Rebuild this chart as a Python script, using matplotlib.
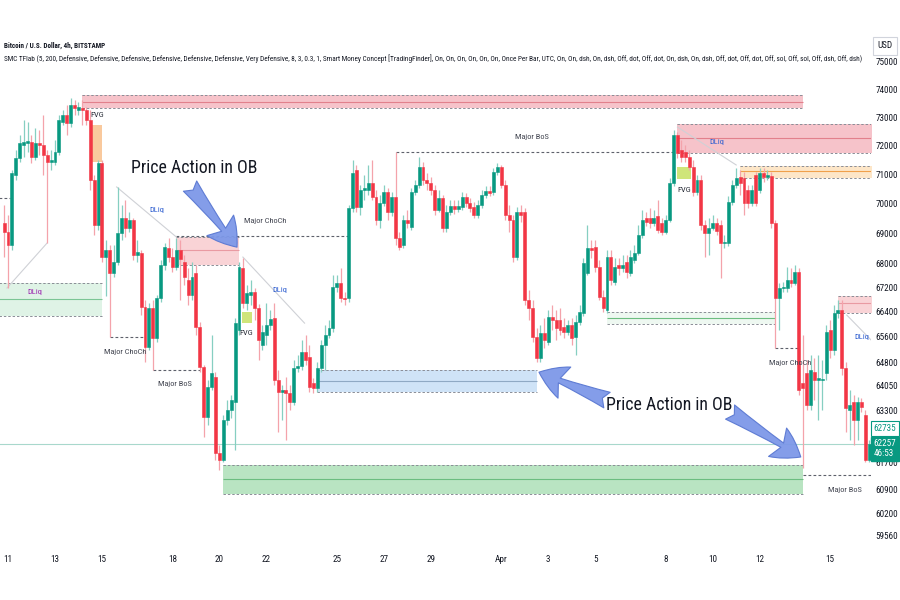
import numpy as np
import pandas as pd
import matplotlib
matplotlib.use('Agg')
import matplotlib.pyplot as plt
import matplotlib.dates as mdates
from matplotlib import font_manager
from matplotlib.patches import FancyArrowPatch

# BTC/USD Bitstamp, 4h candles, 10 Mar 20:00 -> 16 Apr 16:00
times = pd.date_range('2024-03-10 20:00', periods=222, freq='4h')

opens = [69340, 69040, 68600, 70980, 71570, 72030, 72100, 72130, 71610, 72100,
         72030, 71680, 71430, 71430, 71780, 72840, 73090, 72800, 73440, 73270,
         73340, 73270, 72910, 70810, 69270, 71400, 68200, 68430, 67670, 68040,
         69000, 69510, 69170, 69440, 68270, 68330, 66560, 65270, 66530, 65560,
         66850, 67940, 68500, 68200, 67870, 68430, 68040, 67440, 66950, 67670,
         65910, 64640, 63090, 64010, 64330, 61990, 61780, 62990, 63300, 63550,
         65820, 67840, 66690, 66950, 67050, 66530, 65340, 65660, 65980, 66200,
         64230, 63860, 63920, 63830, 63550, 64610, 64670, 65120, 64960, 64140,
         63980, 64610, 65340, 65660, 65880, 67210, 67340, 66850, 66850, 69850,
         71160, 69880, 70470, 70470, 70710, 70230, 69440, 70020, 70400, 69710,
         70230, 68840, 68600, 69440, 69200, 70400, 70640, 71260, 70810, 70710,
         70470, 69780, 70190, 69170, 69710, 69920, 69810, 69880, 70230, 70020,
         69880, 69610, 69950, 70290, 70430, 70400, 71090, 71260, 70640, 69610,
         69440, 68200, 69710, 69710, 66790, 66530, 65590, 64920, 65720, 65430,
         66240, 66140, 66140, 65910, 65750, 65980, 65590, 66070, 66370, 67670,
         68500, 68530, 67870, 66880, 66460, 68200, 67370, 67940, 67840, 68040,
         67670, 68100, 68330, 68940, 69510, 69510, 69340, 69580, 69340, 69040,
         69440, 70710, 72380, 71850, 71780, 71610, 71260, 70400, 70810, 69270,
         69000, 69170, 69340, 69270, 68670, 68670, 70050, 70640, 70910, 70880,
         70470, 70020, 70980, 70470, 71050, 70910, 70950, 69340, 66850, 67180,
         67180, 67440, 67340, 67700, 64140, 64450, 63460, 64490, 64230, 64230,
         64450, 65820, 65180, 66370, 66460, 64610, 63300, 63550, 62990, 63550,
         63150, 61780]
highs = [69950, 69610, 71160, 71850, 72380, 72910, 72840, 72380, 72630, 72560,
         73090, 71850, 71850, 72200, 73090, 73270, 73440, 73700, 73620, 73550,
         73620, 73370, 73270, 70980, 71500, 71500, 68770, 68600, 68600, 70570,
         69950, 70120, 69710, 69510, 68770, 68430, 66790, 66690, 66790, 66950,
         68100, 68670, 68840, 68500, 68840, 68770, 68270, 67840, 68040, 67940,
         66070, 64700, 64230, 65660, 64490, 62230, 63150, 63610, 63770, 66200,
         68040, 68170, 67280, 67440, 67180, 66660, 65980, 66690, 66460, 66690,
         64550, 64080, 64330, 64080, 64860, 65020, 65500, 65660, 65340, 64300,
         64800, 65500, 65980, 66140, 67610, 67610, 67840, 67050, 69950, 71500,
         71330, 70640, 70980, 71330, 71500, 70470, 70290, 70640, 70530, 70400,
         71780, 69040, 69610, 69780, 70530, 70810, 71610, 71430, 71050, 70910,
         70640, 70470, 70290, 69950, 70120, 70120, 70120, 70400, 70360, 70190,
         70050, 70120, 70470, 70600, 70600, 71230, 71400, 71330, 70810, 69950,
         69610, 69880, 69950, 69850, 67110, 66790, 65880, 65980, 66200, 66460,
         66620, 66460, 66530, 66200, 66140, 66200, 66300, 66620, 68170, 69270,
         68770, 68770, 68100, 67110, 68430, 68430, 68170, 68170, 68270, 68270,
         68430, 68600, 69270, 69780, 69710, 69850, 69780, 70120, 69510, 69610,
         70880, 72560, 72490, 72200, 72030, 71850, 71500, 70980, 70980, 69440,
         69510, 69610, 69510, 69440, 68940, 70260, 70810, 71230, 71160, 71090,
         70640, 70640, 71090, 71230, 71230, 71160, 71090, 69440, 67340, 67370,
         67870, 67840, 67940, 67840, 65660, 64860, 65020, 64920, 65020, 64860,
         65980, 66140, 66620, 66790, 66790, 64800, 63920, 63770, 63700, 63670,
         63300, 62380]
lows = [68200, 67180, 68430, 70810, 71430, 71610, 71780, 71400, 71500, 71680,
        70980, 68670, 71160, 71330, 71680, 72730, 72380, 72660, 73090, 73090,
        72730, 72730, 70470, 68940, 69100, 68040, 66920, 65590, 67540, 67940,
        68770, 68870, 69040, 68100, 68040, 66300, 64800, 65180, 64550, 65430,
        66720, 67770, 68040, 67700, 67770, 66790, 67280, 66620, 66790, 65660,
        64490, 62470, 62840, 63920, 61780, 61480, 61720, 62840, 63060, 62080,
        65660, 66530, 66460, 66620, 66140, 64860, 65180, 65340, 65820, 64080,
        62620, 62990, 62380, 63300, 63460, 64490, 64550, 64700, 63860, 63830,
        63860, 64490, 64550, 65560, 65750, 67050, 66720, 66620, 66720, 69710,
        69710, 69610, 70120, 70290, 70120, 69270, 69170, 69920, 69440, 69580,
        68600, 68430, 68500, 69170, 69100, 70290, 70530, 70640, 70470, 70290,
        69610, 69710, 69040, 69040, 69610, 69640, 69710, 69780, 69880, 69710,
        69510, 69510, 69850, 70190, 70260, 70290, 70980, 70530, 69440, 69040,
        68040, 68100, 69370, 66620, 66140, 65430, 64800, 64800, 65240, 65340,
        65820, 65500, 65660, 65560, 65660, 65340, 65020, 65980, 66270, 67610,
        68170, 67700, 66790, 66400, 66370, 67280, 67280, 67610, 67700, 67510,
        67570, 68000, 68270, 68840, 69240, 69170, 69240, 69000, 68940, 68970,
        69370, 70600, 71570, 71430, 71430, 71160, 70260, 70290, 69100, 68200,
        68270, 69100, 68940, 67510, 68500, 68570, 69950, 70530, 70290, 69610,
        69850, 69920, 69920, 70360, 70740, 70810, 69170, 65240, 65820, 67050,
        67050, 67210, 67280, 63770, 61540, 63300, 63300, 63610, 62990, 63300,
        64230, 64920, 65020, 66200, 64390, 62620, 62380, 62230, 62380, 63240,
        61720, 61720]
closes = [69040, 68600, 71050, 71570, 72100, 72130, 72170, 71610, 72100, 72030,
          71680, 71430, 71500, 71780, 72910, 73090, 72800, 73440, 73340, 73370,
          73270, 72910, 70810, 69270, 71400, 68200, 68430, 67670, 68040, 69000,
          69510, 69170, 69440, 68270, 68370, 66560, 65270, 66530, 65560, 66850,
          67940, 68530, 68200, 67870, 68430, 68130, 67540, 66950, 67540, 65910,
          64640, 63090, 64010, 64450, 61990, 61780, 62990, 63300, 63610, 66040,
          67870, 66690, 67010, 67050, 66530, 65500, 65750, 65980, 66170, 64230,
          63860, 63920, 63830, 63550, 64610, 64670, 65120, 64860, 64010, 63980,
          64610, 65340, 65660, 65880, 67210, 67340, 66850, 66820, 69850, 71050,
          69880, 70470, 70530, 70710, 70230, 69440, 70020, 70400, 69710, 70230,
          68840, 68530, 69440, 69340, 70400, 70640, 71260, 70810, 70710, 70470,
          69780, 70190, 69170, 69710, 69920, 69810, 69920, 70230, 70020, 69850,
          69610, 69950, 70290, 70430, 70360, 71090, 71260, 70640, 69610, 69440,
          68200, 69710, 69610, 66790, 66530, 65590, 64920, 65720, 65500, 66240,
          66140, 65880, 65820, 65750, 65980, 65560, 66070, 66400, 68000, 68500,
          68430, 67870, 66880, 66530, 68200, 67440, 67870, 67840, 67940, 67700,
          68200, 68330, 68940, 69440, 69370, 69340, 69510, 69100, 69040, 69440,
          70710, 72380, 71750, 71610, 71610, 71260, 70400, 70810, 69270, 69000,
          69170, 69340, 69070, 68670, 68700, 70050, 70640, 70880, 70710, 70020,
          70020, 70470, 70020, 71050, 70910, 70980, 69340, 66850, 67180, 67210,
          67440, 67340, 67700, 63920, 63980, 63460, 64550, 64230, 64300, 64260,
          65750, 65180, 66370, 66460, 64610, 63360, 63460, 62990, 63550, 63390,
          61780, 62257]

last_price = 62257
tag_price = 62735

ytick_vals = [75000, 74000, 73000, 72000, 71000, 70000, 69000, 68000, 67200,
              66400, 65600, 64800, 64050, 63300, 61700, 60900, 60200, 59560]
xtick_dates = ['2024-03-11', '2024-03-13', '2024-03-15', '2024-03-18', '2024-03-20',
               '2024-03-22', '2024-03-25', '2024-03-27', '2024-03-29', '2024-04-01',
               '2024-04-03', '2024-04-05', '2024-04-08', '2024-04-10', '2024-04-12',
               '2024-04-15']
xtick_labels = ['11', '13', '15', '18', '20', '22', '25', '27', '29', 'Apr',
                '3', '5', '8', '10', '12', '15']

# order-block / liquidity zones: start, end, top, mid, bottom
zone_start = ['2024-03-14 04:00', '2024-03-10 12:00', '2024-03-18 04:00', '2024-03-24 04:00',
              '2024-03-20 04:00', '2024-04-05 12:00', '2024-04-08 12:00', '2024-04-11 04:00',
              '2024-04-15 08:00']
zone_end = ['2024-04-13 20:00', '2024-03-15 00:00', '2024-03-20 20:00', '2024-04-02 12:00',
            '2024-04-13 20:00', '2024-04-12 16:00', '2024-04-17 00:00', '2024-04-17 00:00',
            '2024-04-17 00:00']
zone_top = [73800, 67340, 68870, 64550, 61630, 66400, 72770, 71290, 66920]
zone_mid = [73550, 66820, 68430, 64200, 61210, 66200, 72270, 71120, 66690]
zone_bot = [73340, 66270, 67935, 63860, 60760, 66010, 71750, 70880, 66370]
zone_fill = ['#f6c3ca', '#dff3e6', '#f9d3d6', '#cfe3f7', '#b9e4c2', '#eef8f1',
             '#f6c3ca', '#fde6c8', '#f9d3d6']
zone_line = ['#e2808c', '#7cc595', '#e99aa2', '#8fa9c4', '#6cbd80', '#6cbd80',
             '#e2808c', '#f0a04b', '#e99aa2']

# fair value gaps: start, end, top, bottom, colour
fvg_start = ['2024-03-14 14:00', '2024-03-20 23:00', '2024-04-08 12:00']
fvg_end = ['2024-03-15 00:00', '2024-03-21 09:00', '2024-04-09 02:00']
fvg_top = [72730, 66400, 71260]
fvg_bot = [71430, 66040, 70840]
fvg_col = ['#f9c99d', '#cfe57a', '#cfe57a']

# structure breaks (dashed)
brk_start = ['2024-03-10 12:00', '2024-03-15 08:00', '2024-03-17 04:00', '2024-03-18 04:00',
             '2024-03-27 12:00', '2024-04-12 16:00', '2024-04-13 20:00']
brk_end = ['2024-03-11 02:00', '2024-03-16 18:00', '2024-03-19 04:00', '2024-03-25 12:00',
           '2024-04-08 08:00', '2024-04-13 16:00', '2024-04-17 00:00']
brk_price = [70190, 65590, 64547, 68900, 71780, 65240, 61330]

# liquidity trend lines
liq_from = [('2024-03-10 23:00', 67180), ('2024-03-15 15:00', 70570), ('2024-03-21 00:00', 68200),
            ('2024-04-08 12:00', 72660), ('2024-04-15 17:00', 66300)]
liq_to = [('2024-03-12 16:00', 68670), ('2024-03-18 04:00', 68870), ('2024-03-23 15:00', 66040),
          ('2024-04-11 00:00', 71330), ('2024-04-16 20:00', 65430)]

labels = [('FVG', '2024-03-14 19:00', 73090, '#2a2e39'),
          ('DLiq', '2024-03-12 03:30', 67050, '#9c27b0'),
          ('DLiq', '2024-03-17 08:00', 69780, '#2f5fd0'),
          ('Major ChoCh', '2024-03-15 23:30', 65115, '#434651'),
          ('Major BoS', '2024-03-18 02:30', 64110, '#434651'),
          ('Major ChoCh', '2024-03-21 22:30', 69410, '#434651'),
          ('DLiq', '2024-03-22 14:00', 67110, '#2f5fd0'),
          ('FVG', '2024-03-21 03:00', 65720, '#2a2e39'),
          ('Major BoS', '2024-04-02 07:30', 72310, '#434651'),
          ('DLiq', '2024-04-10 04:00', 72140, '#2f5fd0'),
          ('FVG', '2024-04-08 18:30', 70465, '#2a2e39'),
          ('Major ChoCh', '2024-04-13 07:00', 64770, '#434651'),
          ('Major BoS', '2024-04-15 15:00', 60880, '#434651'),
          ('DLiq', '2024-04-16 08:00', 65580, '#2f5fd0')]

callout_text = 'Price Action in OB'
callout_pos = [('2024-03-18 22:00', 71225), ('2024-04-08 04:00', 63455)]
arrow_from = [('2024-03-18 18:00', 70600), ('2024-04-05 12:00', 63610), ('2024-04-10 17:45', 63240)]
arrow_to = [('2024-03-20 18:00', 68530), ('2024-04-02 14:30', 64480), ('2024-04-13 18:00', 61870)]

header1 = 'Bitcoin / U.S. Dollar, 4h, BITSTAMP'
header2 = ('SMC TFlab (5, 200, Defensive, Defensive, Defensive, Defensive, Defensive, Defensive, '
           'Very Defensive, 8, 3, 0.3, 1, Smart Money Concept [TradingFinder], On, On, On, On, On, On, '
           'Once Per Bar, UTC, On, On, dsh, On, dsh, Off, dot, Off, dot, On, dsh, On, dsh, Off, dot, '
           'Off, dot, Off, sol, Off, sol, Off, dsh, Off, dsh)')

# fonts: a narrow face if one is installed
fonts = font_manager.fontManager.ttflist
names = {f.name for f in fonts}
pref = ['Liberation Sans Narrow', 'Noto Sans Condensed', 'Noto Sans SemiCondensed',
        'DejaVu Sans Condensed', 'Roboto Condensed', 'Open Sans Condensed']
narrow = next((n for n in pref if n in names), None)
if narrow is None:
    cond = [f.name for f in fonts if f.stretch in ('condensed', 'semi-condensed')
            and f.style == 'normal' and f.name in ('DejaVu Sans', 'Noto Sans', 'Open Sans')]
    if cond:
        narrow = cond[0]
        plt.rcParams['font.stretch'] = 'condensed'
plt.rcParams['font.family'] = [narrow, 'DejaVu Sans'] if narrow else ['DejaVu Sans']
fs_small = 6.0 if narrow else 4.6
fs_tick = 6.6 if narrow else 5.0


def dn(s):
    return mdates.date2num(pd.Timestamp(s))


fig = plt.figure(figsize=(9, 6), dpi=100)
ax = fig.add_axes([0, 57 / 600, 871 / 900, 505 / 600])
ax.set_yscale('log')

# zones
for s, e, top, mid, bot, fc, lc in zip(zone_start, zone_end, zone_top, zone_mid, zone_bot,
                                        zone_fill, zone_line):
    x0, x1 = dn(s), dn(e)
    ax.fill_between([x0, x1], bot, top, color=fc, lw=0, zorder=1)
    ax.hlines([top, bot], x0, x1, colors='#8a8d96', linestyles=(0, (2.5, 2)), lw=0.7, zorder=2)
    ax.hlines(mid, x0, x1, colors=lc, lw=0.8, zorder=2)

for s, e, top, bot, fc in zip(fvg_start, fvg_end, fvg_top, fvg_bot, fvg_col):
    ax.fill_between([dn(s), dn(e)], bot, top, color=fc, lw=0, zorder=2)

for s, e, p in zip(brk_start, brk_end, brk_price):
    ax.hlines(p, dn(s), dn(e), colors='#5d606b', linestyles=(0, (2.5, 2)), lw=0.8, zorder=2)

for (s0, p0), (s1, p1) in zip(liq_from, liq_to):
    ax.plot([dn(s0), dn(s1)], [p0, p1], color='#cfd1d6', lw=0.8, zorder=2)

ax.axhline(last_price, color='#a8d8cc', lw=0.8, zorder=2)

# candles
t = mdates.date2num(times)
o, h, l, c = (np.array(v, dtype=float) for v in (opens, highs, lows, closes))
up = c >= o
body_col = np.where(up, '#089981', '#f23645')
wick_col = np.where(up, '#86cfc1', '#f4a3ab')
ax.vlines(t, l, h, colors=wick_col, lw=0.9, zorder=3)
ax.bar(t, np.abs(c - o), bottom=np.minimum(o, c), width=0.125, color=body_col,
       edgecolor=body_col, linewidth=0.4, zorder=4)

for txt, s, p, col in labels:
    ax.text(dn(s), p, txt, color=col, fontsize=fs_small, ha='center', va='center',
            zorder=5, clip_on=True)

big = []
for s, p in callout_pos:
    big.append(ax.text(dn(s), p, callout_text, color='#131722', fontsize=14,
                       ha='center', va='center', zorder=6))

for (s0, p0), (s1, p1) in zip(arrow_from, arrow_to):
    arr = FancyArrowPatch((dn(s0), p0), (dn(s1), p1),
                          arrowstyle='fancy,head_length=0.9,head_width=1.1,tail_width=0.55',
                          mutation_scale=22, fc='#7d98e8', ec='#5a78d2', lw=0.8,
                          alpha=0.95, zorder=7, shrinkA=0, shrinkB=0)
    ax.add_patch(arr)

# axes
ax.set_xlim(dn('2024-03-10 15:50'), dn('2024-04-16 17:45'))
ax.set_ylim(59331, 75882)
ax.yaxis.tick_right()
ax.yaxis.set_major_locator(matplotlib.ticker.FixedLocator(ytick_vals))
ax.yaxis.set_minor_locator(matplotlib.ticker.NullLocator())
ax.set_yticklabels([str(v) for v in ytick_vals])
ax.set_xticks([dn(d) for d in xtick_dates])
ax.set_xticklabels(xtick_labels)
ax.tick_params(axis='y', length=0, pad=3, labelsize=fs_tick, labelcolor='#131722')
ax.tick_params(axis='x', length=0, pad=9, labelsize=fs_tick, labelcolor='#131722')
for sp in ax.spines.values():
    sp.set_visible(False)

# price tags on the scale
ax.text(1.003, tag_price, str(tag_price), transform=ax.get_yaxis_transform(), color='#089981',
        fontsize=fs_tick, va='center', ha='left', zorder=8, clip_on=False,
        bbox=dict(boxstyle='square,pad=0.3', fc='white', ec='#089981', lw=0.8))
ax.text(1.003, 62120, '%d\n46:53' % last_price, transform=ax.get_yaxis_transform(),
        color='white', fontsize=fs_tick, va='center', ha='left', linespacing=1.1, zorder=8,
        clip_on=False, bbox=dict(boxstyle='square,pad=0.3', fc='#089981', ec='#089981'))
fig.text(885 / 900, 1 - 46 / 600, 'USD', fontsize=fs_tick, color='#131722', ha='center',
         va='center', bbox=dict(boxstyle='square,pad=0.5', fc='white', ec='#d1d4dc', lw=0.8))

h1 = fig.text(4 / 900, 1 - 46 / 600, header1, fontsize=6, fontweight='bold',
              color='#131722', va='center')
h2 = fig.text(4 / 900, 1 - 59 / 600, header2, fontsize=6, color='#131722', va='center')

# fit text widths to the reference
fig.canvas.draw()
r = fig.canvas.get_renderer()
for txt, w in [(h1, 101), (h2, 851)] + [(b, 127) for b in big]:
    txt.set_fontsize(txt.get_fontsize() * w / txt.get_window_extent(r).width)

fig.savefig('out.png', dpi=100, facecolor='white')
